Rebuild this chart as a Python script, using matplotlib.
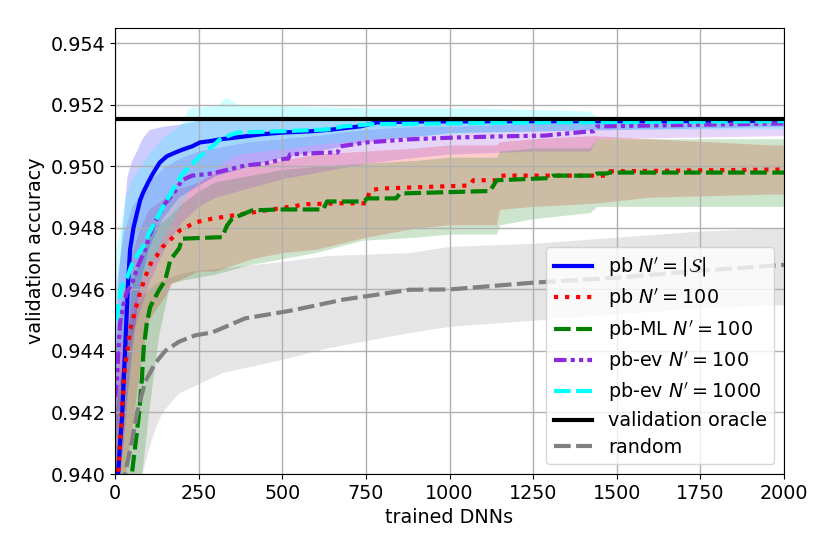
import matplotlib
matplotlib.use("Agg")
import matplotlib.pyplot as plt
import matplotlib.ticker as mticker

# ---------------- data ----------------
blue_x = [1, 9, 15, 21, 30, 39, 45, 55, 66, 75, 84, 100, 115, 134, 155, 180, 203, 230, 254, 284, 314, 370, 434, 500, 583, 650, 733, 760, 783, 900, 2000]
blue_y = [0.9380, 0.9400, 0.9410, 0.94186, 0.94404, 0.94622, 0.9473, 0.9480, 0.9485, 0.9489, 0.94915, 0.9495, 0.9498, 0.95013, 0.95033, 0.95045, 0.95055, 0.95065, 0.95078, 0.95082, 0.95088, 0.95095, 0.95104, 0.9511, 0.95114, 0.9512, 0.9513, 0.95137, 0.95143, 0.95146, 0.95148]

red_x = [1, 9, 15, 22, 30, 38, 45, 60, 75, 90, 111, 125, 141, 164, 194, 240, 290, 350, 410, 493, 573, 663, 750, 762, 792, 1060, 1071, 1140, 1151, 1470, 1480, 2000]
red_y = [0.9390, 0.9400, 0.9410, 0.9423, 0.94349, 0.9441, 0.94469, 0.9453, 0.9459, 0.9464, 0.94695, 0.9471, 0.94737, 0.9476, 0.94792, 0.94818, 0.9483, 0.9484, 0.9485, 0.94864, 0.94877, 0.9488, 0.9488, 0.94922, 0.94928, 0.94938, 0.94955, 0.94955, 0.9497, 0.9497, 0.94984, 0.9499]

green_x = [1, 51, 60, 72, 80, 86, 95, 105, 131, 150, 165, 192, 200, 320, 335, 350, 410, 493, 622, 634, 745, 753, 840, 852, 1121, 1141, 1300, 1310, 1430, 1441, 1470, 1480, 2000]
green_y = [0.9380, 0.94006, 0.94088, 0.94198, 0.94305, 0.94413, 0.9449, 0.94543, 0.94597, 0.9463, 0.94695, 0.94734, 0.94765, 0.9477, 0.94808, 0.9483, 0.94857, 0.9486, 0.9486, 0.94886, 0.94886, 0.94896, 0.94896, 0.94912, 0.9492, 0.94955, 0.94962, 0.9497, 0.9497, 0.94977, 0.94977, 0.9498, 0.9498]

purple_x = [1, 6, 10, 15, 25, 35, 51, 70, 90, 105, 120, 135, 150, 165, 180, 200, 230, 290, 340, 389, 450, 508, 518, 523, 634, 665, 673, 752, 880, 1020, 1164, 1283, 1420, 1430, 1441, 2000]
purple_y = [0.9425, 0.9431, 0.9440, 0.9449, 0.9455, 0.9459, 0.9462, 0.9468, 0.9473, 0.9478, 0.9482, 0.9485, 0.9488, 0.9490, 0.9492, 0.94955, 0.9497, 0.94977, 0.9499, 0.95003, 0.9501, 0.95025, 0.95025, 0.95039, 0.95045, 0.95045, 0.95065, 0.95078, 0.95088, 0.95094, 0.95098, 0.9510, 0.95114, 0.95114, 0.9513, 0.9514]

cyan_x = [1, 6, 15, 25, 36, 50, 65, 84, 100, 115, 134, 160, 185, 205, 224, 254, 290, 314, 340, 365, 484, 560, 634, 682, 763, 1250, 2000]
cyan_y = [0.9450, 0.9451, 0.9459, 0.9462, 0.94638, 0.9468, 0.9471, 0.94739, 0.9478, 0.9481, 0.9485, 0.9490, 0.94948, 0.9498, 0.9500, 0.95033, 0.95065, 0.95088, 0.9510, 0.9511, 0.95114, 0.95117, 0.9512, 0.9513, 0.95137, 0.95143, 0.95147]

rand_x = [1, 30, 51, 66, 90, 120, 150, 191, 240, 290, 389, 520, 583, 682, 783, 880, 1000, 1250, 1500, 1750, 2000]
rand_y = [0.9360, 0.9400, 0.9411, 0.9420, 0.9430, 0.9436, 0.9440, 0.9443, 0.94451, 0.9446, 0.94506, 0.9453, 0.94544, 0.94567, 0.94583, 0.94599, 0.9460, 0.94622, 0.94638, 0.94661, 0.9468]

oracle_value = 0.95155

# uncertainty bands
blue_band_x = [0, 10, 20, 36, 50, 66, 80, 102, 140, 190, 250, 300, 400, 500, 600, 750, 1000, 2000]
blue_band_lo = [0.9380, 0.9395, 0.9405, 0.9425, 0.9440, 0.9455, 0.9465, 0.9474, 0.9483, 0.9490, 0.9494, 0.9497, 0.9500, 0.9503, 0.9505, 0.9508, 0.9511, 0.9513]
blue_band_hi = [0.9440, 0.9465, 0.9478, 0.9497, 0.9502, 0.95055, 0.9509, 0.9512, 0.9513, 0.95137, 0.9515, 0.9515, 0.9515, 0.9515, 0.9515, 0.9516, 0.9516, 0.9516]

cyan_band_x = [0, 15, 30, 50, 75, 100, 150, 200, 220, 310, 330, 370, 750, 1080, 1420, 1440, 2000]
cyan_band_lo = [0.9430, 0.9440, 0.9448, 0.9455, 0.9462, 0.9468, 0.9478, 0.9488, 0.9492, 0.9500, 0.9502, 0.9504, 0.9509, 0.9511, 0.9512, 0.9512, 0.9512]
cyan_band_hi = [0.9470, 0.9480, 0.9490, 0.9496, 0.9500, 0.9504, 0.9510, 0.9514, 0.9519, 0.9520, 0.95225, 0.9520, 0.9519, 0.9519, 0.9518, 0.9516, 0.9516]

purple_band_x = [0, 25, 50, 100, 150, 200, 250, 300, 400, 500, 600, 750, 900, 1000, 1250, 1420, 1440, 2000]
purple_band_lo = [0.9410, 0.9430, 0.9445, 0.9462, 0.9474, 0.9482, 0.9487, 0.9490, 0.9493, 0.9496, 0.9498, 0.9501, 0.9503, 0.9504, 0.9505, 0.9505, 0.9509, 0.9510]
purple_band_hi = [0.9460, 0.9478, 0.9487, 0.9495, 0.9500, 0.9503, 0.9505, 0.9506, 0.9508, 0.9509, 0.9510, 0.9512, 0.9513, 0.9513, 0.9514, 0.9514, 0.9515, 0.9516]

red_band_x = [0, 25, 50, 75, 100, 150, 170, 250, 300, 410, 500, 600, 750, 900, 1000, 1140, 1150, 1250, 1430, 1600, 1960, 2000]
red_band_lo = [0.9380, 0.9395, 0.9415, 0.9435, 0.9450, 0.9458, 0.9462, 0.9466, 0.9466, 0.9470, 0.9472, 0.9473, 0.9477, 0.9480, 0.9481, 0.9481, 0.9486, 0.9487, 0.9488, 0.9490, 0.9491, 0.9491]
red_band_hi = [0.9440, 0.9460, 0.9472, 0.9480, 0.9486, 0.9490, 0.9492, 0.9495, 0.9498, 0.9500, 0.9502, 0.9504, 0.9505, 0.9506, 0.9507, 0.9507, 0.9508, 0.9509, 0.9510, 0.9509, 0.9507, 0.9507]

green_band_x = [0, 40, 51, 80, 100, 130, 164, 200, 250, 300, 400, 500, 600, 740, 900, 1000, 1140, 1150, 1250, 1420, 1440, 1960, 2000]
green_band_lo = [0.9380, 0.9390, 0.9395, 0.9400, 0.9420, 0.9445, 0.9462, 0.9463, 0.9464, 0.9465, 0.9468, 0.9470, 0.9472, 0.9476, 0.9477, 0.9478, 0.9478, 0.9481, 0.9483, 0.9485, 0.9487, 0.9487, 0.9487]
green_band_hi = [0.9420, 0.9450, 0.9463, 0.9472, 0.9477, 0.9481, 0.9484, 0.9488, 0.9492, 0.9495, 0.9497, 0.9499, 0.9500, 0.9501, 0.9502, 0.9503, 0.9503, 0.9505, 0.9506, 0.9506, 0.9509, 0.9509, 0.9509]

rand_band_x = [0, 25, 50, 80, 100, 120, 140, 190, 230, 320, 490, 634, 880, 1000, 1250, 1500, 1750, 2000]
rand_band_lo = [0.9370, 0.9380, 0.9390, 0.9400, 0.9408, 0.9415, 0.9420, 0.94264, 0.94283, 0.9433, 0.9437, 0.9441, 0.9446, 0.9448, 0.9450, 0.9452, 0.9454, 0.9455]
rand_band_hi = [0.9420, 0.9440, 0.9452, 0.9458, 0.9460, 0.9462, 0.9463, 0.9465, 0.9466, 0.9467, 0.9469, 0.9471, 0.9472, 0.9474, 0.9475, 0.9477, 0.9479, 0.9480]

labels = [r'pb $N^\prime=|\mathcal{S}|$', r'pb $N^\prime=100$', r'pb-ML $N^\prime=100$',
          r'pb-ev $N^\prime=100$', r'pb-ev $N^\prime=1000$', 'validation oracle', 'random']
xticks = [0, 250, 500, 750, 1000, 1250, 1500, 1750, 2000]
yticks = [0.940, 0.942, 0.944, 0.946, 0.948, 0.950, 0.952, 0.954]

# ---------------- plot ----------------
plt.rcParams['font.size'] = 13.8
fig = plt.figure(figsize=(8.3, 5.54), dpi=100)
ax = fig.add_axes([0.1386, 0.1444, 0.806, 0.8051])

a = 0.2
ax.fill_between(rand_band_x, rand_band_lo, rand_band_hi, color='gray', alpha=a, lw=0)
ax.fill_between(red_band_x, red_band_lo, red_band_hi, color='red', alpha=a, lw=0)
ax.fill_between(green_band_x, green_band_lo, green_band_hi, color='green', alpha=a, lw=0)
ax.fill_between(purple_band_x, purple_band_lo, purple_band_hi, color='blueviolet', alpha=a, lw=0)
ax.fill_between(blue_band_x, blue_band_lo, blue_band_hi, color='blue', alpha=a, lw=0)
ax.fill_between(cyan_band_x, cyan_band_lo, cyan_band_hi, color='cyan', alpha=a, lw=0)

lw = 3
h1, = ax.plot(blue_x, blue_y, color='blue', lw=lw, label=labels[0])
h2, = ax.plot(red_x, red_y, color='red', lw=lw, ls=':', label=labels[1])
h3, = ax.plot(green_x, green_y, color='green', lw=lw, ls=(0, (4, 1.3)), label=labels[2])
h4, = ax.plot(purple_x, purple_y, color='blueviolet', lw=lw, ls=(0, (3, 1, 1, 1, 1, 1)), label=labels[3])
h5, = ax.plot(cyan_x, cyan_y, color='cyan', lw=lw, ls=(0, (4, 1.3)), label=labels[4])
h6 = ax.axhline(oracle_value, color='black', lw=lw, label=labels[5])
h7, = ax.plot(rand_x, rand_y, color='gray', lw=lw, ls=(0, (4, 1.3)), label=labels[6])

ax.set_xlim(0, 2000)
ax.set_ylim(0.940, 0.9545)
ax.set_xticks(xticks)
ax.set_yticks(yticks)
ax.yaxis.set_major_formatter(mticker.FormatStrFormatter('%.3f'))
ax.grid(True, color='#b0b0b0', lw=1)
ax.set_xlabel('trained DNNs')
ax.set_ylabel('validation accuracy')
ax.legend(handles=[h1, h2, h3, h4, h5, h6, h7], loc='lower right', labelspacing=0.38)

fig.savefig('out.png', dpi=100)
